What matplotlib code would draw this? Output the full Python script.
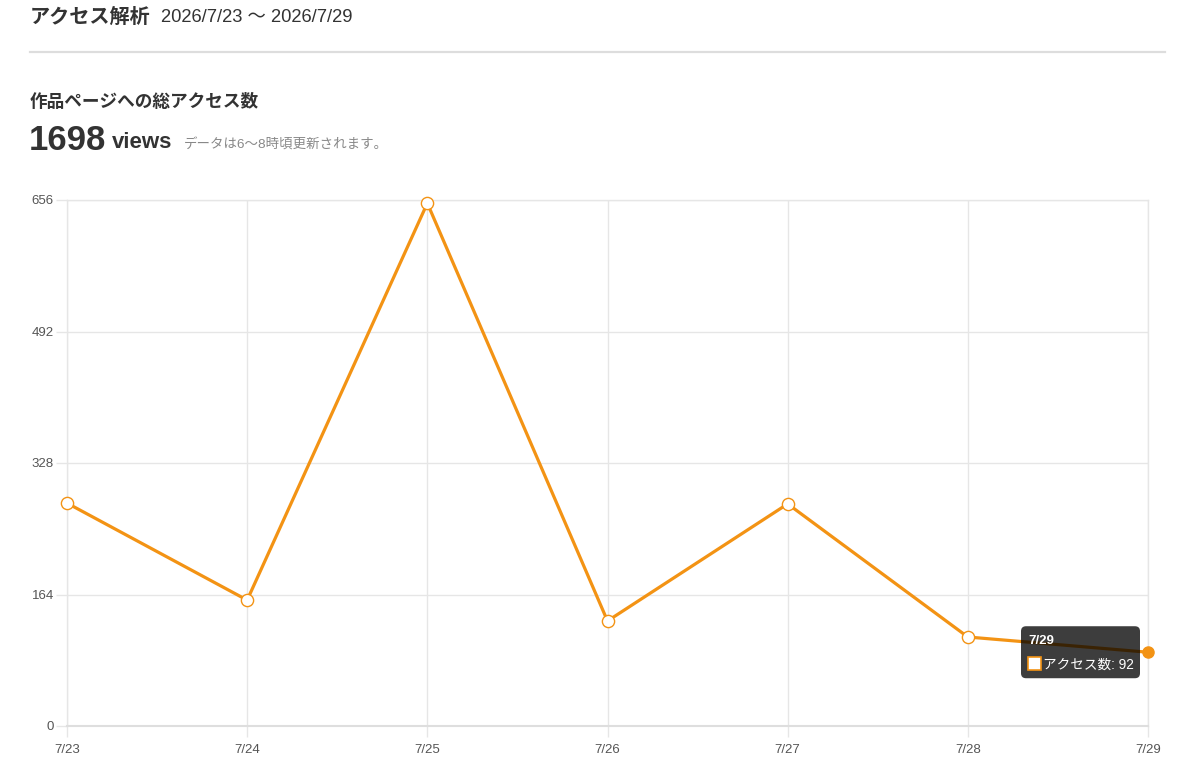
import matplotlib
matplotlib.use("Agg")
import matplotlib.pyplot as plt
from matplotlib.patches import FancyBboxPatch, Rectangle
from matplotlib.transforms import IdentityTransform

plt.rcParams['font.family'] = ['Liberation Sans', 'Noto Sans CJK JP', 'DejaVu Sans']

# ---- data ----
dates = ["7/23", "7/24", "7/25", "7/26", "7/27", "7/28", "7/29"]
views = [278, 157, 652, 131, 277, 111, 92]
yticks = [0, 164, 328, 492, 656]
total_views = 1698
page_title = "アクセス解析"
date_range = "2026/7/23 〜 2026/7/29"
section_title = "作品ページへの総アクセス数"
note = "データは6〜8時頃更新されます。"
series_name = "アクセス数"

ORANGE = "#F39314"
GRID = "#e6e6e6"
TICK_TXT = "#555555"

W, H = 1200, 784
fig = plt.figure(figsize=(W / 100, H / 100), dpi=100)
fig.patch.set_facecolor("white")

def fx(x):
    return x / W

def fy(y):
    return 1 - y / H

ax = fig.add_axes([fx(67), fy(726), (1148 - 67) / W, (726 - 200) / H])
x = list(range(len(dates)))
ax.set_xlim(0, len(dates) - 1)
ax.set_ylim(yticks[0], yticks[-1])
ax.set_xticks(x)
ax.set_xticklabels(dates)
ax.set_yticks(yticks)
ax.set_yticklabels([str(t) for t in yticks])
ax.grid(True, color=GRID, linewidth=1.0)
ax.set_axisbelow(True)
for s in ["top", "right", "left"]:
    ax.spines[s].set_color(GRID)
    ax.spines[s].set_linewidth(1.0)
ax.spines["bottom"].set_color("#dedede")
ax.spines["bottom"].set_linewidth(1.5)
ax.tick_params(axis="both", colors=GRID, length=8, width=1.0,
               labelcolor=TICK_TXT, labelsize=9.5)
ax.tick_params(axis="x", pad=5)
ax.tick_params(axis="y", pad=1.5)

ax.plot(x, views, color=ORANGE, linewidth=2.3, zorder=3, clip_on=False)
ax.plot(x[:-1], views[:-1], linestyle="none", marker="o", markersize=8.8,
        markerfacecolor="white", markeredgecolor=ORANGE, markeredgewidth=1.0,
        zorder=4, clip_on=False)
ax.plot(x[-1:], views[-1:], linestyle="none", marker="o", markersize=8.0,
        markerfacecolor=ORANGE, markeredgecolor=ORANGE, markeredgewidth=1.0,
        zorder=4, clip_on=False)

# ---- header texts ----
fig.text(fx(30), fy(17), page_title, fontsize=14.5, fontweight="bold",
         color="#333333", ha="left", va="center")
fig.text(fx(161), fy(18), date_range, fontsize=13.2, color="#333333",
         ha="left", va="center")
fig.add_artist(plt.Line2D([fx(30), fx(1165)], [fy(52), fy(52)],
                          color="#dddddd", linewidth=1.6))
fig.text(fx(30), fy(102), section_title, fontsize=12.7, fontweight="bold",
         color="#333333", ha="left", va="center")
fig.text(fx(29), fy(141), str(total_views), fontsize=25, fontweight="bold",
         color="#333333", ha="left", va="center")
fig.text(fx(112), fy(143), "views", fontsize=16, fontweight="bold",
         color="#333333", ha="left", va="center")
fig.text(fx(184), fy(145), note, fontsize=9.7, color="#888888",
         ha="left", va="center")

# ---- tooltip anchored to last point ----
fig.canvas.draw()
px, py = ax.transData.transform((x[-1], views[-1]))
ident = IdentityTransform()
box = FancyBboxPatch((px - 127, py - 26), 119, 52,
                     boxstyle="round,pad=0,rounding_size=5",
                     transform=ident, facecolor=(0, 0, 0, 0.76),
                     edgecolor="none", zorder=10)
fig.add_artist(box)
fig.text(px - 120, py + 11, dates[-1], transform=ident, color="white",
         fontsize=9.5, fontweight="bold", ha="left", va="center", zorder=11)
sq = Rectangle((px - 120, py - 18), 13, 13, transform=ident,
               facecolor="white", edgecolor=ORANGE, linewidth=1.2, zorder=11)
fig.add_artist(sq)
fig.text(px - 105, py - 12, f"{series_name}: {views[-1]}", transform=ident,
         color="white", fontsize=9.8, ha="left", va="center", zorder=11)

fig.savefig("out.png", dpi=100, facecolor="white")
